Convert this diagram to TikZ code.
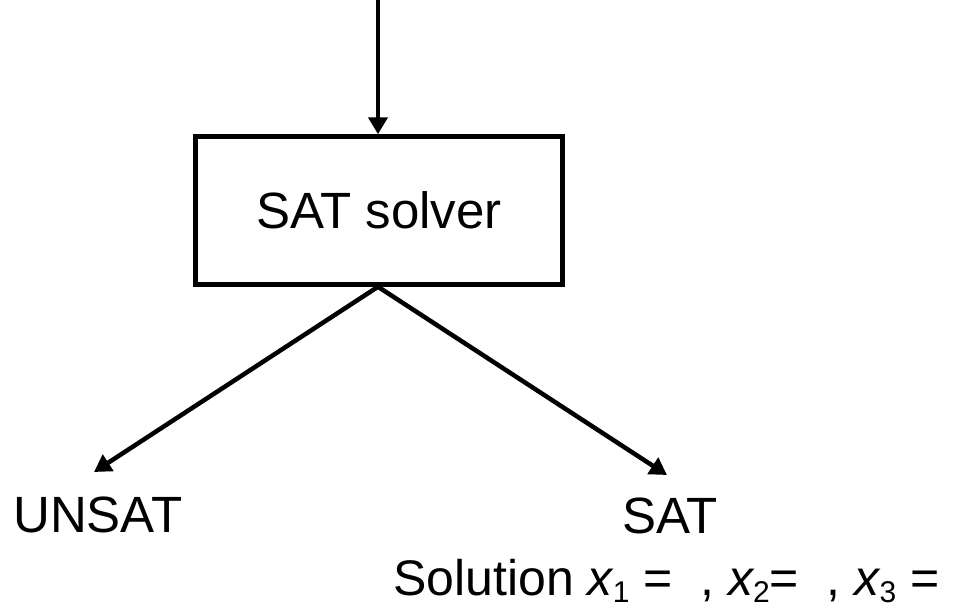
\documentclass[tikz,border=0pt]{standalone}
\usepackage{fontspec}
\setmainfont{Liberation Sans}
\usetikzlibrary{arrows.meta}
\newcommand{\subdig}[1]{\raisebox{-7pt}{\fontsize{30}{30}\selectfont #1}}
\begin{document}
\begin{tikzpicture}[x=1pt,y=-1pt,
  lbl/.style={inner sep=0pt,font=\fontsize{51}{60}\selectfont},
  conn/.style={line width=4.5pt,-{Triangle[length=17pt,width=19pt]}},
  boxst/.style={draw,line width=4.5pt,minimum width=367pt,minimum height=148pt,inner sep=0pt}]
\useasboundingbox (0,0) rectangle (963,608);
\node[boxst,lbl] (solver) at (379,210.5) {SAT solver};
\coordinate (top) at (378,0);
\node[lbl,anchor=base west] (unsat) at (13,532) {UNSAT};
\node[lbl,anchor=base west] (sat) at (622,533) {SAT};
\node[lbl,anchor=base west,font=\fontsize{50}{60}\selectfont] (sol) at (393,595) {Solution {\itshape x}\subdig{1} = \ , {\itshape x}\subdig{2}= \ , {\itshape x}\subdig{3} =};
\coordinate (ltip) at (94,472);
\coordinate (rtip) at (667,475);
\draw[conn] (top) -- (solver.north -| top);
\draw[conn] (solver.south -| top) -- (ltip);
\draw[conn] (solver.south -| top) -- (rtip);
\end{tikzpicture}
\end{document}
